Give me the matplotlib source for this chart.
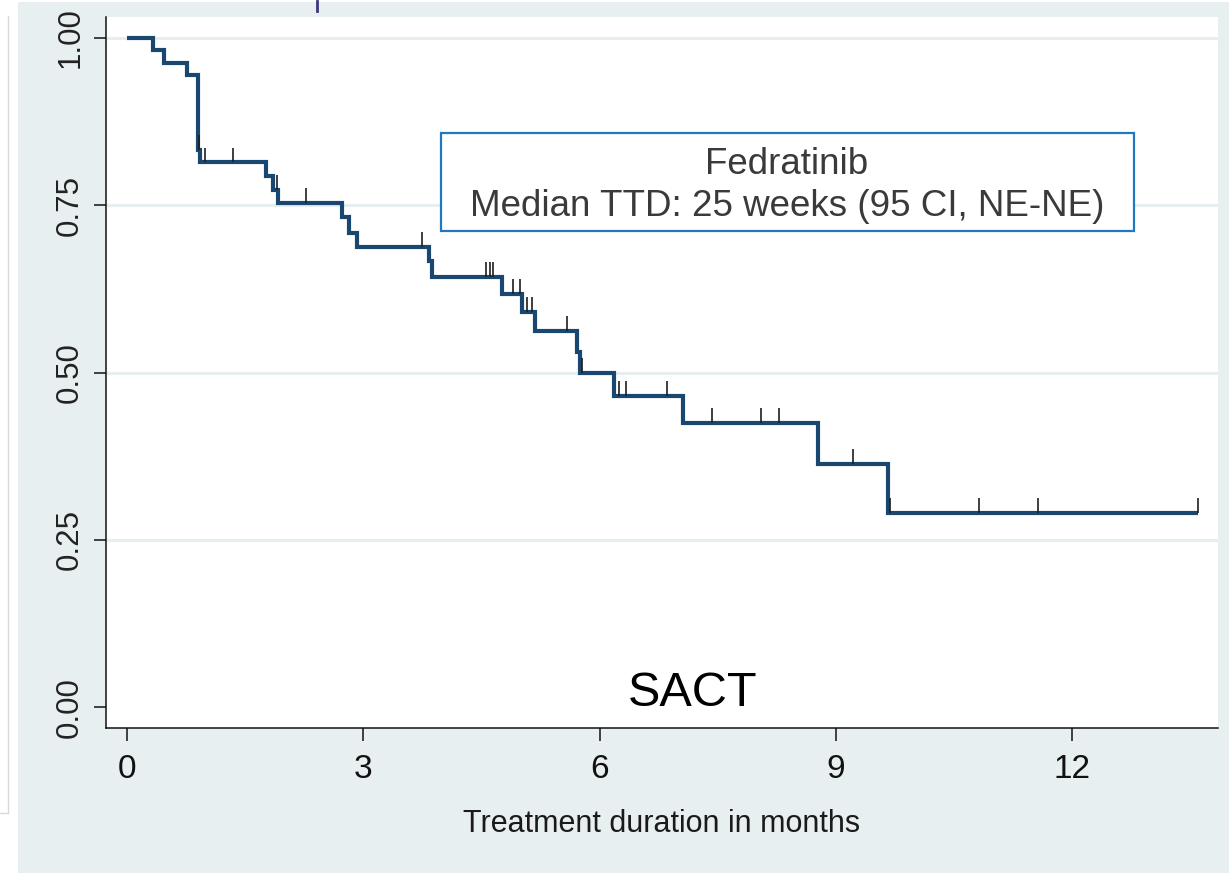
import numpy as np
import matplotlib
matplotlib.use("Agg")
import matplotlib.pyplot as plt
from matplotlib.patches import Rectangle
from matplotlib.lines import Line2D

plt.rcParams['font.family'] = ['Liberation Sans', 'DejaVu Sans']

# Kaplan-Meier style curve: time of each drop (months) and survival after it
event_months = [0.33, 0.47, 0.76, 0.90, 0.93, 1.76, 1.85, 1.92, 2.73, 2.82,
                2.92, 3.83, 3.87, 4.76, 5.01, 5.18, 5.71, 5.75, 6.18, 7.06,
                8.77, 9.66]
surv_after = [0.981, 0.963, 0.944, 0.833, 0.814, 0.794, 0.773, 0.753, 0.732,
              0.709, 0.688, 0.667, 0.643, 0.618, 0.591, 0.562, 0.530, 0.499,
              0.465, 0.425, 0.363, 0.290]
last_month = 13.60

# censored observations (months)
censor_months = [0.91, 0.99, 1.35, 1.90, 2.27, 3.74, 4.56, 4.61, 4.65, 4.90,
                 4.99, 5.08, 5.14, 5.58, 5.78, 6.24, 6.34, 6.86, 7.42, 8.05,
                 8.28, 9.22, 9.69, 10.81, 11.56, 13.60]

x_ticks = [0, 3, 6, 9, 12]
y_ticks = [0.0, 0.25, 0.5, 0.75, 1.0]
y_ticklabels = ["0.00", "0.25", "0.50", "0.75", "1.00"]

LINE_COL = '#1a476f'
BG_COL = '#e8eff1'

W, H = 1229, 873
fig = plt.figure(figsize=(W / 100, H / 100), dpi=100)
fig.patch.set_facecolor('white')

# outer graph region + little side strip
fig.patches.append(Rectangle((18 / W, 0), 1 - 18 / W, 1 - 2 / H,
                             transform=fig.transFigure, facecolor=BG_COL,
                             edgecolor='none', zorder=-5))
fig.lines.append(Line2D([8 / W, 8 / W], [1 - 16 / H, 1 - 813 / H],
                        transform=fig.transFigure, color='#d9d9d9', lw=1, zorder=-4))
fig.lines.append(Line2D([0, 8 / W], [1 - 813 / H, 1 - 813 / H],
                        transform=fig.transFigure, color='#d9d9d9', lw=1, zorder=-4))
fig.lines.append(Line2D([317 / W, 317 / W], [1 - 1 / H, 1 - 11 / H],
                        transform=fig.transFigure, color='#3a3a7a', lw=2, zorder=-4))

ax = fig.add_axes([106 / W, 1 - 728 / H, (1218 - 106) / W, (728 - 17) / H])
ax.set_facecolor('white')

for y in [0.25, 0.5, 0.75, 1.0]:
    ax.axhline(y, color='#e6eef0', lw=2.2, zorder=1)

xs = [0] + event_months + [last_month]
ys = [1.0] + surv_after + [surv_after[-1]]
ax.step(xs, ys, where='post', color=LINE_COL, lw=3.0, zorder=3,
        solid_joinstyle='miter', solid_capstyle='butt')

idx = np.searchsorted(event_months, censor_months, side='right')
levels = np.array([1.0] + surv_after)[idx]
ax.vlines(censor_months, levels, levels + 0.022, color='#1e1e1e', lw=1.2, zorder=4)

ax.set_xlim(-0.267, 13.85)
ax.set_ylim(-0.031, 1.031)

ax.set_xticks(x_ticks)
ax.set_yticks(y_ticks)
ax.set_yticklabels(y_ticklabels, rotation=90, va='center')
ax.tick_params(axis='both', length=9, width=1.1, colors='#111111')
ax.tick_params(axis='y', pad=6, labelsize=22.5, labelcolor='#222222')
ax.tick_params(axis='x', pad=10, labelsize=24)

for s in ['top', 'right']:
    ax.spines[s].set_visible(False)
for s in ['left', 'bottom']:
    ax.spines[s].set_linewidth(1.1)
    ax.spines[s].set_color('#111111')

ax.set_xlabel("Treatment duration in months", fontsize=22, color='#1a1a1a', labelpad=17)

# median annotation box
box_l, box_r, box_t, box_b = 441, 1134, 133, 231
fig.patches.append(Rectangle((box_l / W, 1 - box_b / H), (box_r - box_l) / W,
                             (box_b - box_t) / H, transform=fig.transFigure,
                             facecolor='white', edgecolor='#1f78c1', lw=1.6, zorder=5))
fig.text(787 / W, 1 - 165 / H, "Fedratinib", ha='center', va='center',
         fontsize=26.5, color='#3a3a3a', zorder=6)
fig.text(787 / W, 1 - 206 / H, "Median TTD: 25 weeks (95 CI, NE-NE)", ha='center',
         va='center', fontsize=26.5, color='#3a3a3a', zorder=6)

fig.text(693 / W, 1 - 693 / H, "SACT", ha='center', va='center', fontsize=35,
         color='black')

fig.savefig('out.png', dpi=100, facecolor=fig.get_facecolor())
